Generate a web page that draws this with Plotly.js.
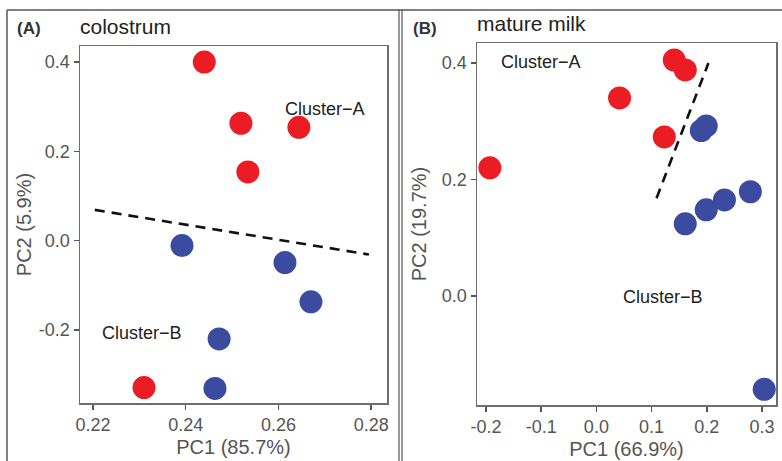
<!DOCTYPE html>
<html>
<head>
<meta charset="utf-8">
<script src="https://cdn.plot.ly/plotly-3.0.1.min.js"></script>
<style>html,body{margin:0;padding:0;background:#fff;}#chart{width:782px;height:461px;}</style>
</head>
<body>
<div id="chart"></div>
<script>
// Panel A: colostrum
const colostrumRedPC1 = [0.2440, 0.2519, 0.2644, 0.2534, 0.2310];
const colostrumRedPC2 = [0.400, 0.263, 0.254, 0.154, -0.329];
const colostrumBluePC1 = [0.2392, 0.2614, 0.2670, 0.2472, 0.2463];
const colostrumBluePC2 = [-0.011, -0.049, -0.137, -0.220, -0.331];
const colostrumLinePC1 = [0.2204, 0.2795];
const colostrumLinePC2 = [0.069, -0.031];

// Panel B: mature milk
const matureRedPC1 = [-0.193, 0.042, 0.141, 0.161, 0.123];
const matureRedPC2 = [0.220, 0.340, 0.405, 0.388, 0.273];
const matureBluePC1 = [0.190, 0.199, 0.161, 0.199, 0.232, 0.279, 0.304];
const matureBluePC2 = [0.284, 0.292, 0.124, 0.148, 0.165, 0.179, -0.160];
const matureLinePC1 = [0.109, 0.203];
const matureLinePC2 = [0.168, 0.400];

const colostrumXTicks = [0.22, 0.24, 0.26, 0.28];
const colostrumYTicks = [-0.2, 0.0, 0.2, 0.4];
const matureXTicks = [-0.2, -0.1, 0.0, 0.1, 0.2, 0.3];
const matureYTicks = [0.0, 0.2, 0.4];

const RED = '#EC1C24';
const BLUE = '#3A4BA0';
const FONT = 'Liberation Sans, Arial, sans-serif';

function dots(x, y, color, xa, ya) {
  return {x: x, y: y, xaxis: xa, yaxis: ya, type: 'scatter', mode: 'markers',
    marker: {size: 23, color: color, line: {width: 0}}, showlegend: false, hoverinfo: 'skip'};
}
function dashLine(x, y, xa, ya) {
  return {x: x, y: y, xaxis: xa, yaxis: ya, type: 'scatter', mode: 'lines',
    line: {color: '#111', width: 2.6, dash: '10px,7px'}, showlegend: false, hoverinfo: 'skip'};
}

const data = [
  dashLine(colostrumLinePC1, colostrumLinePC2, 'x', 'y'),
  dots(colostrumRedPC1, colostrumRedPC2, RED, 'x', 'y'),
  dots(colostrumBluePC1, colostrumBluePC2, BLUE, 'x', 'y'),
  dashLine(matureLinePC1, matureLinePC2, 'x2', 'y2'),
  dots(matureRedPC1, matureRedPC2, RED, 'x2', 'y2'),
  dots(matureBluePC1, matureBluePC2, BLUE, 'x2', 'y2')
];

const W = 782, H = 461;
function px(v) { return v / W; }
function py(v) { return 1 - v / H; }

const axisCommon = {
  showgrid: false, zeroline: false, showline: true, mirror: true,
  linecolor: '#6e6e6e', linewidth: 1.5,
  ticks: 'outside', ticklen: 5, tickwidth: 1.5, tickcolor: '#555',
  tickfont: {family: FONT, size: 18, color: '#555'},
  fixedrange: true
};

const layout = {
  width: W, height: H,
  margin: {l: 0, r: 0, t: 0, b: 0},
  paper_bgcolor: '#fff', plot_bgcolor: '#fff',
  font: {family: FONT},
  xaxis: Object.assign({}, axisCommon, {
    domain: [px(80), px(387)], range: [0.2172, 0.2834],
    tickvals: colostrumXTicks, ticktext: colostrumXTicks.map(v => v.toFixed(2)),
    anchor: 'y',
    title: {text: 'PC1 (85.7%)', font: {family: FONT, size: 20, color: '#555'}, standoff: 6}
  }),
  yaxis: Object.assign({}, axisCommon, {
    domain: [py(403), py(46)], range: [-0.3635, 0.436],
    tickvals: colostrumYTicks, ticktext: colostrumYTicks.map(v => v.toFixed(1)),
    anchor: 'x',
    title: {text: 'PC2 (5.9%)', font: {family: FONT, size: 20, color: '#555'}, standoff: 2}
  }),
  xaxis2: Object.assign({}, axisCommon, {
    domain: [px(477), px(776)], range: [-0.2163, 0.3254],
    tickvals: matureXTicks, ticktext: matureXTicks.map(v => v.toFixed(1)),
    anchor: 'y2',
    title: {text: 'PC1 (66.9%)', font: {family: FONT, size: 20, color: '#555'}, standoff: 6}
  }),
  yaxis2: Object.assign({}, axisCommon, {
    domain: [py(405), py(43)], range: [-0.187, 0.4343],
    tickvals: matureYTicks, ticktext: matureYTicks.map(v => v.toFixed(1)),
    anchor: 'x2',
    title: {text: 'PC2 (19.7%)', font: {family: FONT, size: 20, color: '#555'}, standoff: 10}
  }),
  annotations: [
    {text: '<b>(A)</b>', xref: 'paper', yref: 'paper', x: px(15), y: py(28), xanchor: 'left', yanchor: 'middle', showarrow: false, font: {family: FONT, size: 17, color: '#333'}},
    {text: 'colostrum', xref: 'paper', yref: 'paper', x: px(78), y: py(26), xanchor: 'left', yanchor: 'middle', showarrow: false, font: {family: FONT, size: 21, color: '#222'}},
    {text: '<b>(B)</b>', xref: 'paper', yref: 'paper', x: px(411), y: py(28), xanchor: 'left', yanchor: 'middle', showarrow: false, font: {family: FONT, size: 17, color: '#333'}},
    {text: 'mature milk', xref: 'paper', yref: 'paper', x: px(475), y: py(24), xanchor: 'left', yanchor: 'middle', showarrow: false, font: {family: FONT, size: 21, color: '#222'}},
    {text: 'Cluster\u2212A', xref: 'x', yref: 'y', x: 0.2700, y: 0.295, xanchor: 'center', yanchor: 'middle', showarrow: false, font: {family: FONT, size: 18, color: '#222'}},
    {text: 'Cluster\u2212B', xref: 'x', yref: 'y', x: 0.2305, y: -0.206, xanchor: 'center', yanchor: 'middle', showarrow: false, font: {family: FONT, size: 18, color: '#222'}},
    {text: 'Cluster\u2212A', xref: 'x2', yref: 'y2', x: -0.101, y: 0.402, xanchor: 'center', yanchor: 'middle', showarrow: false, font: {family: FONT, size: 18, color: '#222'}},
    {text: 'Cluster\u2212B', xref: 'x2', yref: 'y2', x: 0.120, y: -0.002, xanchor: 'center', yanchor: 'middle', showarrow: false, font: {family: FONT, size: 18, color: '#222'}}
  ],
  shapes: [
    {type: 'line', xref: 'paper', yref: 'paper', x0: px(7), x1: 1, y0: py(10), y1: py(10), line: {color: '#555', width: 1.5}},
    {type: 'line', xref: 'paper', yref: 'paper', x0: px(7), x1: px(7), y0: 0, y1: py(10), line: {color: '#555', width: 1.5}},
    {type: 'line', xref: 'paper', yref: 'paper', x0: px(399), x1: px(399), y0: 0, y1: py(10), line: {color: '#555', width: 1.2}},
    {type: 'line', xref: 'paper', yref: 'paper', x0: px(402), x1: px(402), y0: 0, y1: py(10), line: {color: '#555', width: 1.2}}
  ]
};

Plotly.newPlot('chart', data, layout, {displayModeBar: false, staticPlot: true});
</script>
</body>
</html>
